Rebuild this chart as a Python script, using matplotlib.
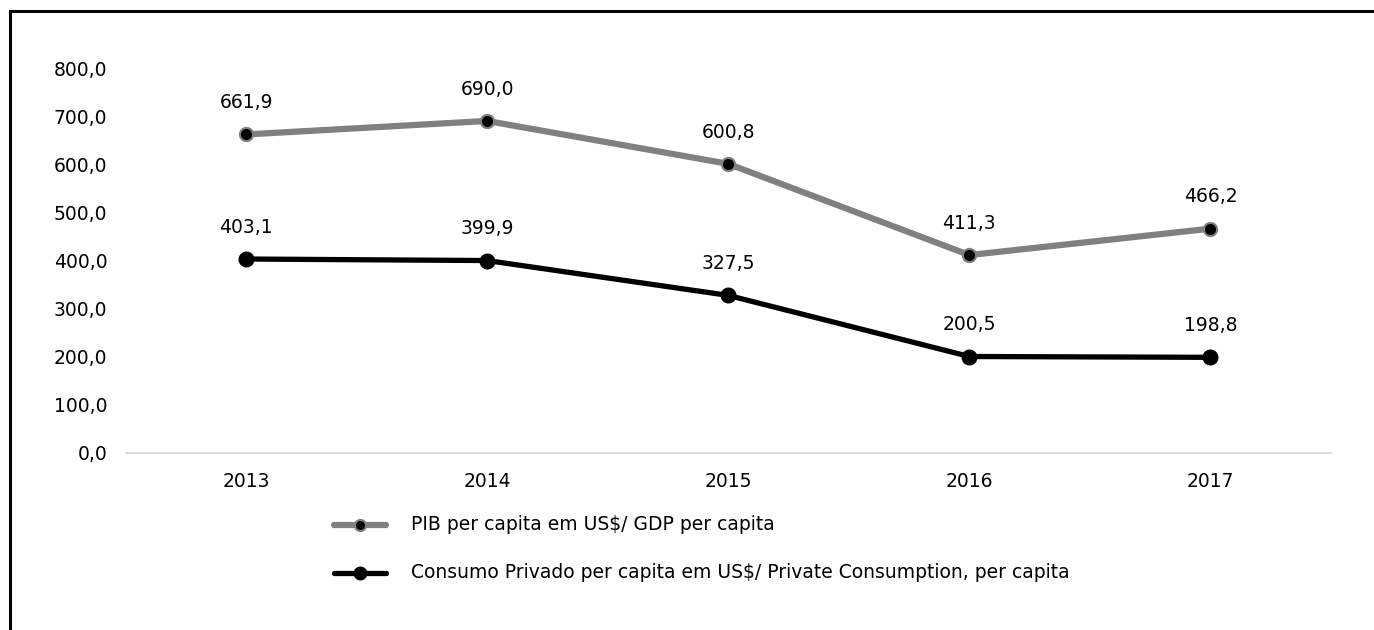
import matplotlib
matplotlib.use("Agg")
import matplotlib.pyplot as plt
from matplotlib.patches import Rectangle
from matplotlib.lines import Line2D

years = ["2013", "2014", "2015", "2016", "2017"]
gdp = [661.9, 690.0, 600.8, 411.3, 466.2]
consumption = [403.1, 399.9, 327.5, 200.5, 198.8]
yticks = [0, 100, 200, 300, 400, 500, 600, 700, 800]
label_gdp = "PIB per capita em US$/ GDP per capita"
label_cons = "Consumo Privado per capita em US$/ Private Consumption, per capita"

plt.rcParams['font.family'] = ['DejaVu Sans']
fs = 13.5

fig = plt.figure(figsize=(13.74, 6.30), dpi=100)
W, H = 1374, 630
ax = fig.add_axes([125.5 / W, 1 - 453 / H, (1331 - 125.5) / W, (453 - 68) / H])

x = list(range(len(years)))
ax.plot(x, gdp, color="#808080", lw=4.5, marker="o", ms=9.5, mfc="black", mec="#808080", mew=1.5,
        solid_capstyle="round", zorder=3)
ax.plot(x, consumption, color="black", lw=3.8, marker="o", ms=10.5, mfc="black", mec="black",
        solid_capstyle="round", zorder=3)

def fmt(v):
    return f"{v:.1f}".replace(".", ",")

for xi, v in zip(x, gdp):
    ax.annotate(fmt(v), (xi, v), xytext=(0, 16), textcoords="offset points", ha="center",
                va="bottom", fontsize=fs)
for xi, v in zip(x, consumption):
    ax.annotate(fmt(v), (xi, v), xytext=(0, 16), textcoords="offset points", ha="center",
                va="bottom", fontsize=fs)

ax.set_xlim(-0.5, len(years) - 0.5)
ax.set_ylim(0, 800)
ax.set_xticks(x)
ax.set_xticklabels(years, fontsize=fs)
ax.set_yticks(yticks)
ax.set_yticklabels([fmt(v) for v in yticks], fontsize=fs)
for s in ["top", "right", "left"]:
    ax.spines[s].set_visible(False)
ax.spines["bottom"].set_color("#d9d9d9")
ax.spines["bottom"].set_linewidth(1.3)
ax.tick_params(axis="both", length=0)
ax.tick_params(axis="y", pad=13)
ax.tick_params(axis="x", pad=14)

# legend drawn manually in figure coordinates
def fx(px):
    return px / W

def fy(py):
    return 1 - py / H

fig.add_artist(Line2D([fx(334), fx(386)], [fy(525), fy(525)], color="#808080", lw=4.5,
                      solid_capstyle="round", transform=fig.transFigure))
fig.add_artist(Line2D([fx(360)], [fy(525)], marker="o", ms=8, mfc="black", mec="#808080",
                      mew=1.5, transform=fig.transFigure))
fig.add_artist(Line2D([fx(334), fx(386)], [fy(573), fy(573)], color="black", lw=3.8,
                      solid_capstyle="round", transform=fig.transFigure))
fig.add_artist(Line2D([fx(360)], [fy(573)], marker="o", ms=9, mfc="black", mec="black",
                      transform=fig.transFigure))
fig.text(fx(411), fy(525), label_gdp, fontsize=fs, va="center", ha="left")
fig.text(fx(411), fy(573), label_cons, fontsize=fs, va="center", ha="left")

# outer frame (left and top visible)
fig.add_artist(Rectangle((fx(10), fy(640)), fx(1400), fy(11) - fy(640), fill=False,
                         edgecolor="black", lw=2.2, transform=fig.transFigure))

fig.savefig("out.png", dpi=100)
